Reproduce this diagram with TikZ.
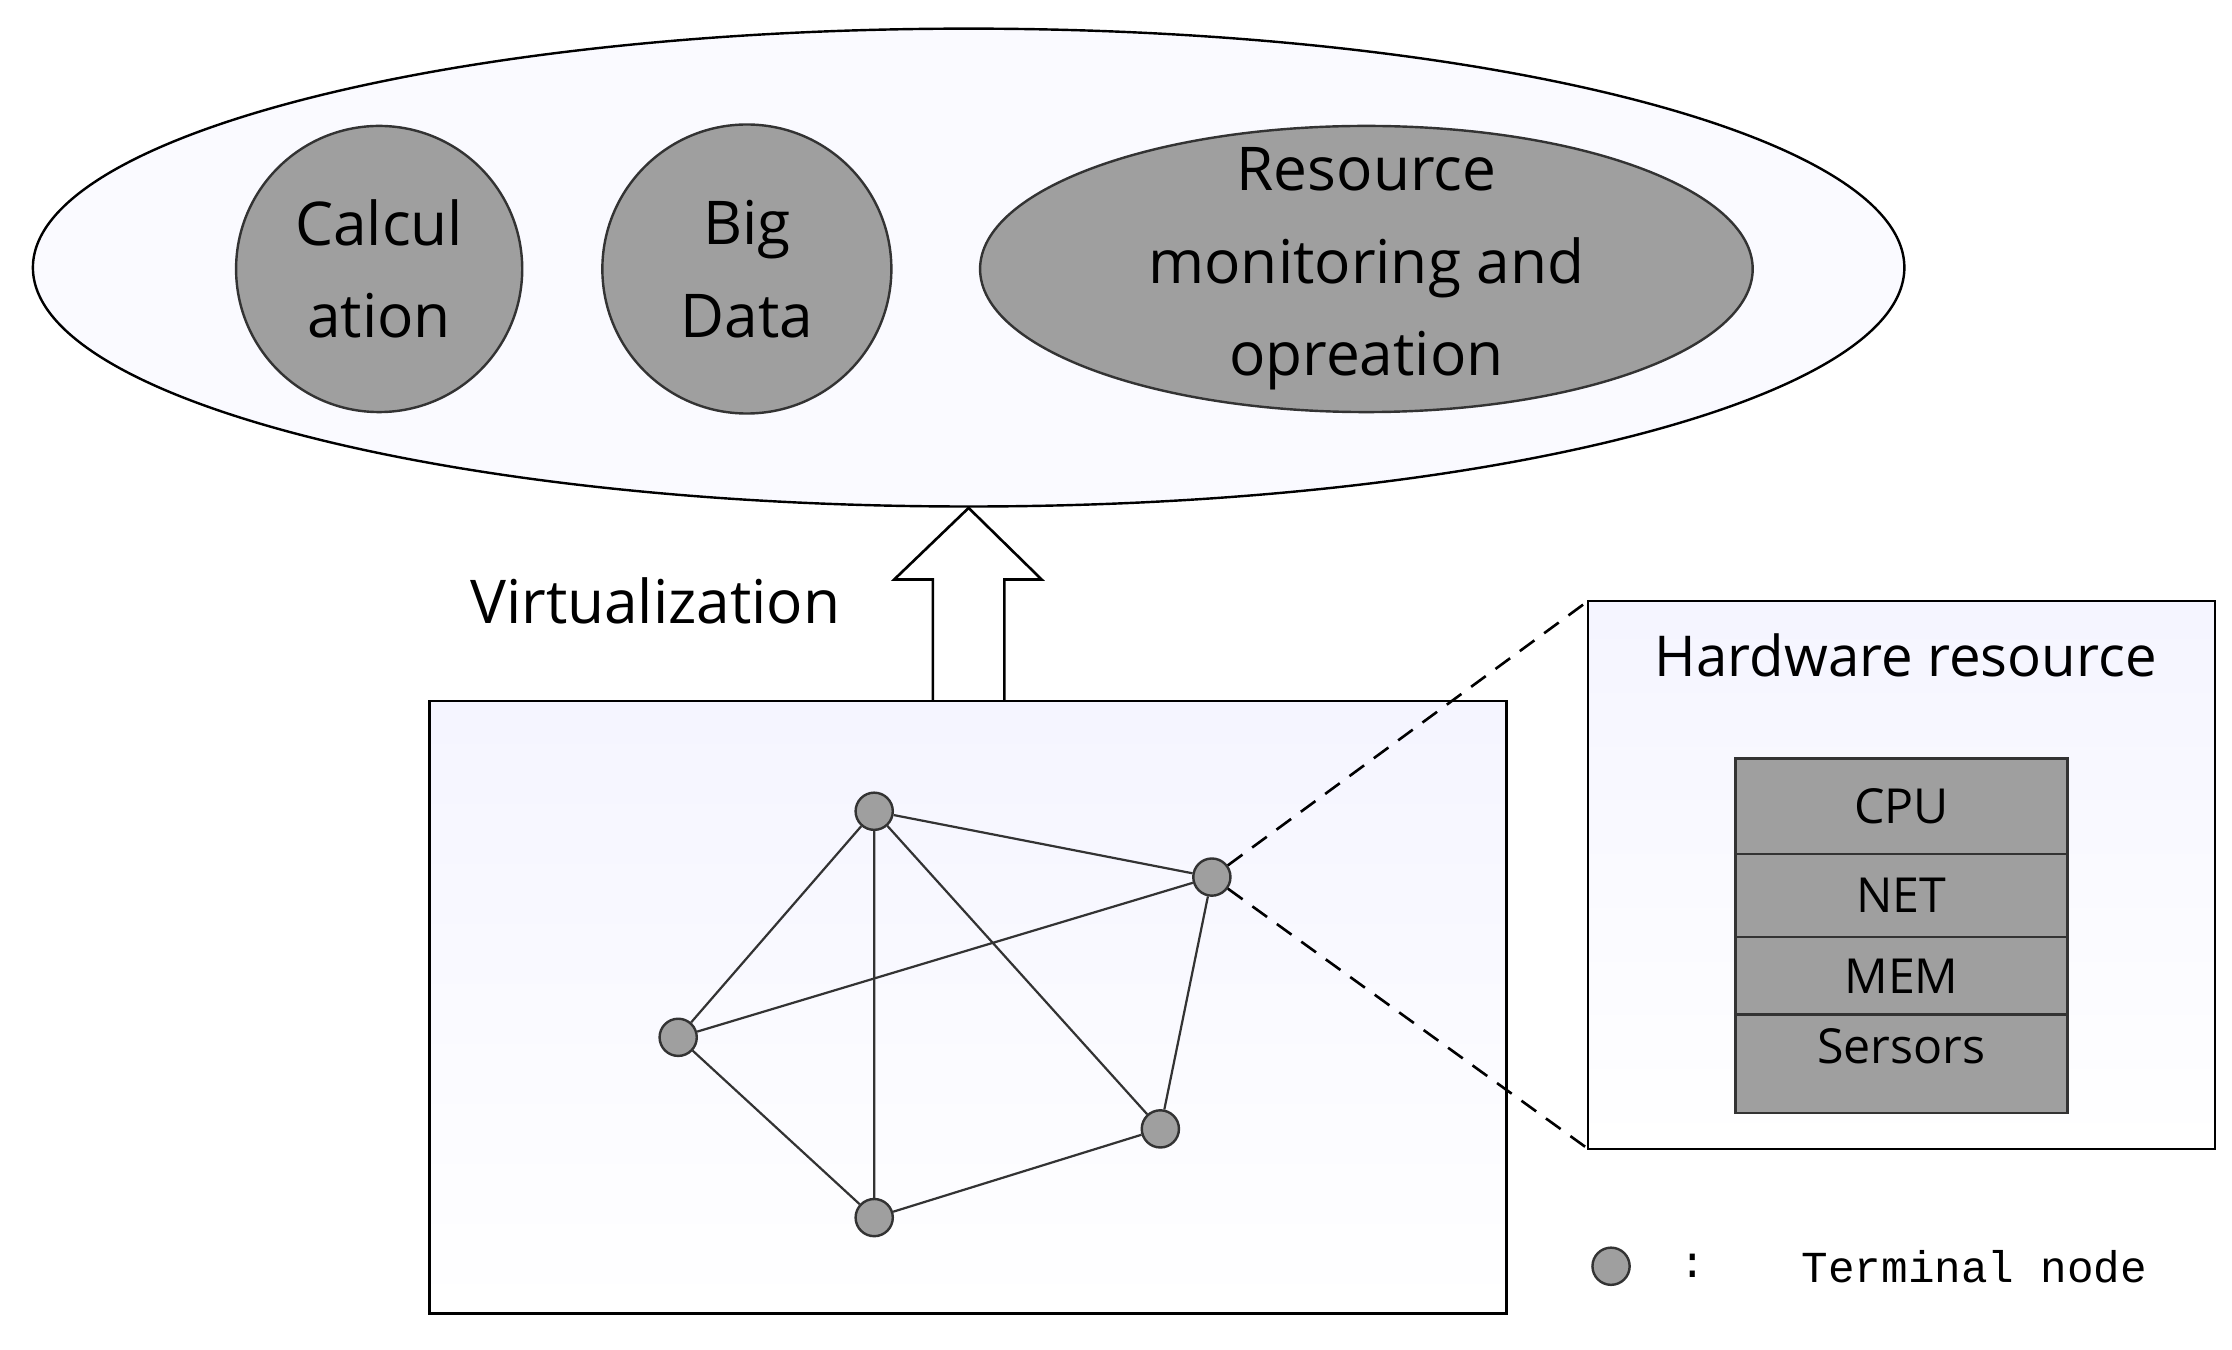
\documentclass[tikz,border=0pt]{standalone}
\usepackage{fontspec}
\setmainfont{Open Sans}
\newfontfamily\monof{Liberation Mono}
\begin{document}
\begin{tikzpicture}[x=0.025cm,y=-0.025cm,
  grey/.style={fill=gray!75!white,draw=black!80,line width=1.2pt},
  tn/.style={circle,grey,minimum size=26*0.025cm,inner sep=0pt},
  edge/.style={line width=1.1pt,black!80},
  cell/.style={grey,minimum width=232*0.025cm,inner sep=0pt,font=\fontsize{24}{28}\selectfont}]
\useasboundingbox (0,0) rectangle (1560,943);
\draw[line width=1.2pt,fill=blue!2] (677,187) ellipse [x radius=654,y radius=167];
\node[circle,grey,minimum size=200*0.025cm,align=center,font=\fontsize{30}{46}\selectfont] (calc) at (265,188) {Calcul\\ation};
\node[circle,grey,minimum size=202*0.025cm,align=center,font=\fontsize{30}{46}\selectfont] (big) at (522,188) {Big\\Data};
\draw[grey] (955,188) ellipse [x radius=270,y radius=100];
\node[align=center,font=\fontsize{30}{46}\selectfont] (res) at (955,188) {Resource\\monitoring and\\opreation};
\draw[line width=1.3pt,fill=white] (652,490) -- (652,405) -- (625,405) -- (677,355) -- (728,405) -- (702,405) -- (702,490);
\node[font=\fontsize{30}{36}\selectfont] (virt) at (458,420) {Virtualization};
\shade[top color=blue!4,bottom color=white] (300,490) rectangle (1053,918);
\draw[line width=1.3pt] (300,490) rectangle (1053,918);
\node[tn] (A) at (611,567) {};
\node[tn] (B) at (847,613) {};
\node[tn] (C) at (474,725) {};
\node[tn] (D) at (811,789) {};
\node[tn] (E) at (611,851) {};
\draw[edge] (A)--(B) (A)--(C) (A)--(E) (A)--(D) (C)--(B) (C)--(E) (E)--(D) (D)--(B);
\shade[top color=blue!4,bottom color=white] (1110,420) rectangle (1548,803);
\draw[line width=1.3pt] (1110,420) rectangle (1548,803);
\coordinate (h1) at (1110,420); \coordinate (h2) at (1110,803);
\draw[dashed,line width=1.3pt,dash pattern=on 9pt off 6pt] (B) -- (h1) (B) -- (h2);
\node[font=\fontsize{28}{34}\selectfont] (hw) at (1332,458) {Hardware resource};
\node[cell,minimum height=67*0.025cm] (cpu) at (1329,563.5) {CPU};
\node[cell,minimum height=58*0.025cm] (net) at (1329,626) {NET};
\node[cell,minimum height=54*0.025cm] (mem) at (1329,682) {MEM};
\node[cell,minimum height=69*0.025cm,text depth=18pt] (sen) at (1329,743.5) {Sersors};
\node[tn] (leg) at (1126,885) {};
\node[font=\monof\fontsize{22}{26}\selectfont] (colon) at (1183,885) {:};
\node[font=\monof\fontsize{22}{26}\selectfont] (term) at (1380,885) {Terminal node};
\end{tikzpicture}
\end{document}
